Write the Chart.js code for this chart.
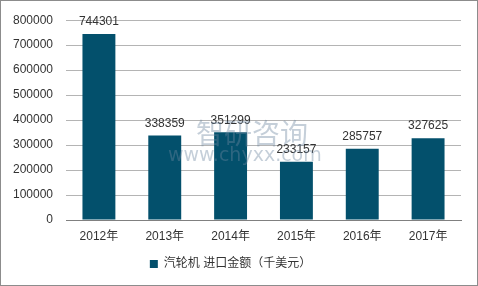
<!DOCTYPE html>
<html>
<head>
<meta charset="utf-8">
<script src="https://cdn.jsdelivr.net/npm/chart.js@4"></script>
<style>
    html, body { margin: 0; padding: 0; background: #fff; }
    #wrap { width: 478px; height: 286px; position: relative; }
</style>
</head>
<body>
<div id="wrap"><canvas id="chart" width="478" height="286"></canvas></div>
<script>
// chart data
const years = ['2012年', '2013年', '2014年', '2015年', '2016年', '2017年'];
const importValues = [744301, 338359, 351299, 233157, 285757, 327625];
const seriesName = '汽轮机 进口金额（千美元）';

const barColor = '#03506c';
const fontFamily = '"Liberation Sans", Arial, "Noto Sans CJK SC", sans-serif';

// value labels above each bar
const valueLabels = {
    id: 'valueLabels',
    afterDatasetsDraw(chart) {
        const ctx = chart.ctx;
        const meta = chart.getDatasetMeta(0);
        ctx.save();
        ctx.font = '12px ' + fontFamily;
        ctx.fillStyle = '#333';
        ctx.textAlign = 'center';
        ctx.textBaseline = 'middle';
        meta.data.forEach((bar, i) => {
            ctx.fillText(importValues[i], bar.x, bar.y - 12);
        });
        ctx.restore();
    }
};

// watermark + outer border
const decor = {
    id: 'decor',
    afterDraw(chart) {
        const ctx = chart.ctx;
        ctx.save();
        ctx.fillStyle = 'rgba(110, 135, 160, 0.4)';
        ctx.textBaseline = 'middle';
        ctx.textAlign = 'left';
        ctx.font = '28px "Noto Sans CJK SC", sans-serif';
        ctx.fillText('智研咨询', 196, 133);
        ctx.font = '19px "DejaVu Sans", sans-serif';
        ctx.fillText('www.chyxx.com', 168, 156);
        ctx.restore();

        ctx.save();
        ctx.strokeStyle = '#8c8c8c';
        ctx.lineWidth = 1;
        ctx.strokeRect(0.5, 0.5, chart.width - 1, chart.height - 1);
        ctx.restore();
    }
};

new Chart(document.getElementById('chart'), {
    type: 'bar',
    data: {
        labels: years,
        datasets: [{
            label: seriesName,
            data: importValues,
            backgroundColor: barColor,
            borderWidth: 0,
            barPercentage: 0.5,
            categoryPercentage: 1.0
        }]
    },
    options: {
        responsive: false,
        animation: false,
        layout: {
            padding: { top: 9, right: 17, bottom: 6, left: 0 }
        },
        plugins: {
            legend: {
                position: 'bottom',
                labels: {
                    boxWidth: 8,
                    boxHeight: 8,
                    padding: 6,
                    color: '#333',
                    font: { size: 12, family: fontFamily }
                }
            },
            tooltip: { enabled: false }
        },
        scales: {
            x: {
                grid: { display: false, drawTicks: false },
                border: { color: '#808080', width: 1 },
                ticks: {
                    color: '#333',
                    padding: 9,
                    font: { size: 12, family: fontFamily }
                },
                afterFit(scale) { scale.height = 32; }
            },
            y: {
                min: 0,
                max: 800000,
                grid: { color: '#b4b4b4', drawTicks: false },
                border: { display: false },
                ticks: {
                    stepSize: 100000,
                    color: '#333',
                    padding: 13,
                    font: { size: 12, family: fontFamily },
                    callback: (v) => String(v)
                },
                afterFit(scale) { scale.width = 66; }
            }
        }
    },
    plugins: [valueLabels, decor]
});
</script>
</body>
</html>
